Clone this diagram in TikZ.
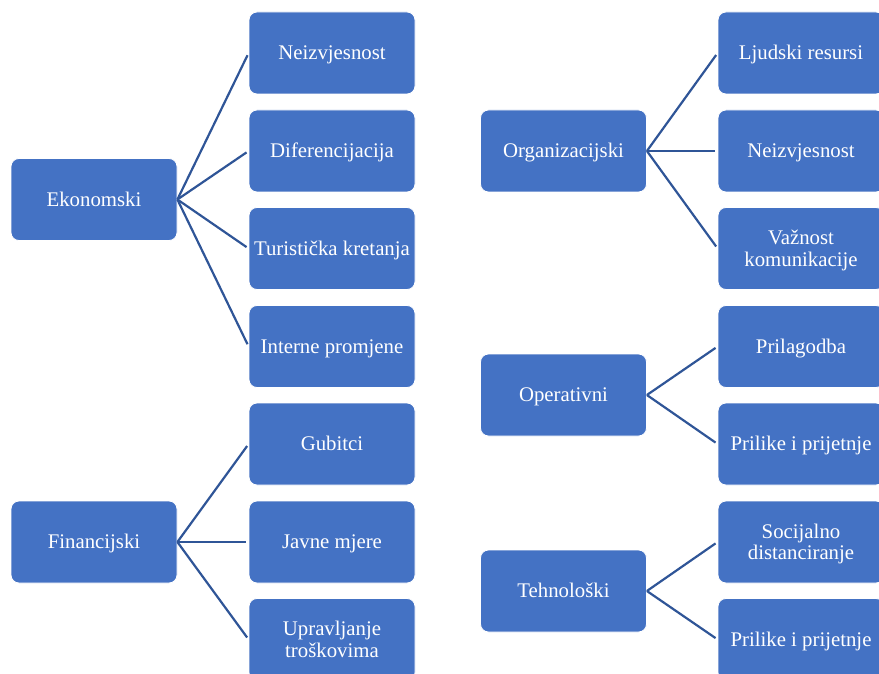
\documentclass[tikz,border=0pt]{standalone}
\usepackage{fontspec}
\setmainfont{Liberation Serif}
\definecolor{boxblue}{HTML}{4472C4}
\definecolor{linkblue}{HTML}{2F5597}
\tikzset{
  box/.style={rectangle, rounded corners=8pt, fill=boxblue, draw=white, line width=0.8pt,
    minimum width=166pt, minimum height=82pt, inner sep=0pt, align=center,
    text height=18.7pt, text depth=5pt,
    text=white, font=\fontsize{20.8}{21.5}\selectfont},
  twoline/.style={text height=40.2pt},
  link/.style={draw=linkblue, line width=2.2pt, shorten >=2.5pt}
}
\begin{document}
\begin{tikzpicture}[x=1pt,y=-1pt]
\useasboundingbox (0,0) rectangle (879,674);
\clip (0,0) rectangle (879,674);
% left column
\node[box] (eko) at (94,199.5) {Ekonomski};
\node[box] (fin) at (94,542) {Financijski};
\node[box] (l1) at (332,53) {Neizvjesnost};
\node[box] (l2) at (332,151) {Diferencijacija};
\node[box] (l3) at (332,248.5) {Turistička kretanja};
\node[box] (l4) at (332,346.5) {Interne promjene};
\node[box] (l5) at (332,444) {Gubitci};
\node[box] (l6) at (332,542) {Javne mjere};
\node[box,twoline] (l7) at (332,639.5) {Upravljanje\\troškovima};
% right column
\node[box] (org) at (563.5,151) {Organizacijski};
\node[box] (ope) at (563.5,395) {Operativni};
\node[box] (teh) at (563.5,591) {Tehnološki};
\node[box] (r1) at (801,53) {Ljudski resursi};
\node[box] (r2) at (801,151) {Neizvjesnost};
\node[box,twoline] (r3) at (801,248.5) {Važnost\\komunikacije};
\node[box] (r4) at (801,346.5) {Prilagodba};
\node[box] (r5) at (801,444) {Prilike i prijetnje};
\node[box,twoline] (r6) at (801,542) {Socijalno\\distanciranje};
\node[box] (r7) at (801,639.5) {Prilike i prijetnje};
% connectors
\foreach \c in {l1,l2,l3,l4} \draw[link] (eko.east) -- (\c.west);
\foreach \c in {l5,l6,l7} \draw[link] (fin.east) -- (\c.west);
\foreach \c in {r1,r2,r3} \draw[link] (org.east) -- (\c.west);
\foreach \c in {r4,r5} \draw[link] (ope.east) -- (\c.west);
\foreach \c in {r6,r7} \draw[link] (teh.east) -- (\c.west);
\end{tikzpicture}
\end{document}
